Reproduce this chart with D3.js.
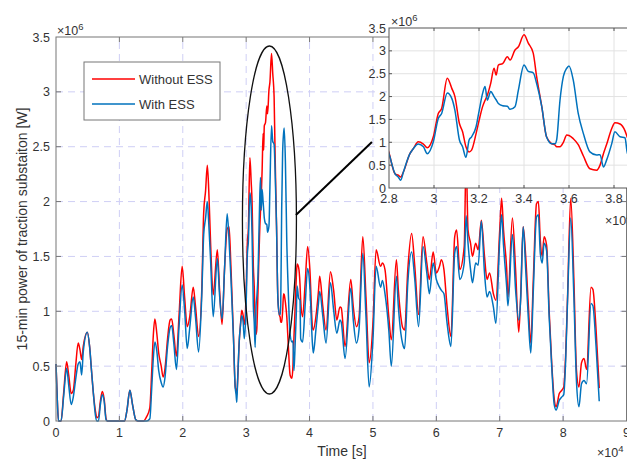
<!DOCTYPE html>
<html>
<head>
<meta charset="utf-8">
<script src="https://cdn.jsdelivr.net/npm/d3@7"></script>
<style>
  body { margin: 0; background: #fff; }
  svg { display: block; }
  text { font-family: "Liberation Sans", Arial, sans-serif; fill: #333; }
</style>
</head>
<body>
<script>
const width = 627;
const height = 459;

// Time, in units of 1e4 s
const timeE4 = [
  0.000, 0.020, 0.040, 0.080, 0.120, 0.168, 0.200, 0.240, 0.273, 0.310,
  0.350, 0.378, 0.405, 0.430, 0.494, 0.530, 0.560, 0.590, 0.620, 0.645,
  0.670, 0.700, 0.730, 0.760, 0.790, 0.810, 1.080, 1.120, 1.165, 1.210,
  1.260, 1.300, 1.380, 1.430, 1.480, 1.510, 1.535, 1.560, 1.590, 1.620,
  1.660, 1.690, 1.720, 1.760, 1.800, 1.825, 1.860, 1.900, 1.940, 1.990,
  2.030, 2.070, 2.110, 2.165, 2.200, 2.250, 2.300, 2.330, 2.360, 2.387,
  2.410, 2.440, 2.480, 2.545, 2.580, 2.620, 2.660, 2.700, 2.730, 2.760,
  2.800, 2.827, 2.841, 2.852, 2.864, 2.893, 2.908, 2.930, 2.953, 2.970,
  2.997, 3.019, 3.034, 3.059, 3.079, 3.093, 3.113, 3.127, 3.142, 3.156,
  3.167, 3.187, 3.201, 3.216, 3.227, 3.237, 3.252, 3.267, 3.276, 3.286,
  3.305, 3.326, 3.338, 3.360, 3.375, 3.400, 3.419, 3.441, 3.456, 3.479,
  3.500, 3.523, 3.538, 3.545, 3.560, 3.575, 3.590, 3.600, 3.619, 3.641,
  3.664, 3.693, 3.723, 3.738, 3.753, 3.767, 3.790, 3.804, 3.827, 3.849,
  3.860, 3.890, 3.930, 3.970, 4.005, 4.045, 4.060, 4.100, 4.140, 4.160,
  4.210, 4.260, 4.330, 4.380, 4.430, 4.480, 4.500, 4.560, 4.650, 4.690,
  4.740, 4.780, 4.840, 4.890, 4.940, 5.000, 5.050, 5.120, 5.150, 5.190,
  5.250, 5.290, 5.370, 5.400, 5.440, 5.470, 5.500, 5.550, 5.610, 5.660,
  5.720, 5.790, 5.850, 5.890, 5.950, 6.000, 6.050, 6.080, 6.120, 6.170,
  6.230, 6.290, 6.320, 6.370, 6.440, 6.470, 6.500, 6.540, 6.570, 6.620,
  6.660, 6.710, 6.760, 6.800, 6.840, 6.900, 6.940, 7.000, 7.030, 7.060,
  7.110, 7.130, 7.200, 7.250, 7.300, 7.330, 7.370, 7.410, 7.450, 7.490,
  7.530, 7.580, 7.610, 7.640, 7.670, 7.700, 7.740, 7.780, 7.820, 7.860,
  7.890, 7.940, 7.980, 8.010, 8.040, 8.070, 8.120, 8.170, 8.210, 8.250,
  8.290, 8.330, 8.370, 8.440, 8.470, 8.520, 8.570
];

// 15-min power, in units of 1e6 W
const withoutEss = [
  0.52, 0.20, 0.00, 0.00, 0.25, 0.54, 0.42, 0.25, 0.28, 0.50,
  0.71, 0.65, 0.56, 0.68, 0.81, 0.68, 0.46, 0.25, 0.10, 0.03,
  0.04, 0.18, 0.27, 0.20, 0.02, 0.00, 0.00, 0.10, 0.28, 0.14,
  0.01, 0.00, 0.00, 0.04, 0.12, 0.45, 0.78, 0.93, 0.80, 0.62,
  0.50, 0.40, 0.48, 0.75, 0.92, 0.93, 0.78, 0.59, 0.95, 1.41,
  1.12, 0.86, 0.95, 1.22, 1.05, 0.77, 1.20, 1.90, 2.10, 2.33,
  2.10, 1.60, 1.15, 1.56, 1.20, 0.88, 1.40, 1.75, 1.77, 1.40,
  0.77, 0.31, 0.28, 0.24, 0.35, 0.75, 0.86, 1.01, 0.96, 0.88,
  1.12, 1.63, 1.74, 2.40, 2.18, 2.00, 1.41, 1.23, 0.90, 0.79,
  0.83, 1.19, 1.49, 1.78, 1.92, 2.03, 2.29, 2.62, 2.47, 2.69,
  2.72, 2.87, 2.80, 3.02, 3.09, 3.35, 3.17, 2.95, 2.44, 1.78,
  1.12, 0.97, 0.94, 0.90, 0.90, 1.00, 1.16, 1.15, 1.08, 0.95,
  0.70, 0.42, 0.39, 0.50, 0.75, 0.95, 1.30, 1.43, 1.40, 1.25,
  1.10, 0.95, 1.25, 1.59, 1.38, 0.86, 0.83, 0.95, 1.18, 1.32,
  1.04, 0.83, 1.36, 1.19, 0.92, 1.04, 1.03, 0.68, 1.29, 1.04,
  0.86, 0.94, 1.68, 1.13, 0.53, 0.89, 1.56, 1.41, 1.44, 1.38,
  0.95, 0.74, 1.47, 1.20, 0.95, 0.85, 0.83, 1.38, 1.71, 1.41,
  0.97, 1.68, 1.44, 1.29, 1.54, 1.35, 1.41, 1.47, 1.38, 1.04,
  0.77, 1.68, 1.74, 1.38, 1.59, 2.40, 1.74, 1.62, 1.50, 1.62,
  1.56, 1.83, 1.50, 1.29, 1.35, 1.16, 1.10, 1.74, 2.03, 1.74,
  1.38, 1.13, 1.85, 1.38, 0.81, 1.13, 1.77, 1.50, 1.07, 0.71,
  1.29, 1.98, 2.00, 1.65, 1.50, 1.68, 1.60, 1.00, 0.53, 0.20,
  0.13, 0.25, 0.28, 0.31, 0.60, 1.13, 2.03, 1.29, 0.47, 0.31,
  0.53, 0.57, 0.47, 1.22, 1.20, 0.83, 0.30
];

const withEss = [
  0.52, 0.20, 0.00, 0.00, 0.22, 0.48, 0.33, 0.15, 0.22, 0.38,
  0.52, 0.54, 0.42, 0.63, 0.81, 0.68, 0.46, 0.25, 0.06, 0.00,
  0.00, 0.15, 0.24, 0.18, 0.01, 0.00, 0.00, 0.10, 0.28, 0.14,
  0.01, 0.00, 0.00, 0.00, 0.02, 0.30, 0.57, 0.72, 0.64, 0.46,
  0.35, 0.31, 0.40, 0.68, 0.85, 0.87, 0.70, 0.47, 0.85, 1.24,
  1.00, 0.66, 0.85, 1.13, 0.95, 0.63, 1.15, 1.70, 1.85, 2.00,
  1.80, 1.45, 0.95, 1.48, 1.15, 0.93, 1.40, 1.89, 1.65, 1.30,
  0.75, 0.31, 0.24, 0.17, 0.35, 0.75, 0.86, 0.96, 0.90, 0.75,
  1.01, 1.52, 1.63, 2.08, 1.96, 1.70, 1.05, 0.90, 0.67, 1.05,
  1.12, 1.34, 1.70, 2.07, 2.22, 1.92, 2.11, 2.00, 1.93, 1.85,
  1.80, 1.79, 1.72, 1.78, 2.14, 2.69, 2.55, 2.52, 2.29, 1.78,
  1.12, 0.97, 0.97, 1.05, 1.92, 2.44, 2.62, 2.67, 2.36, 1.63,
  1.19, 0.79, 0.72, 0.73, 0.46, 0.61, 0.97, 1.23, 1.12, 1.10,
  0.75, 0.72, 1.05, 1.39, 1.22, 0.71, 0.62, 0.83, 1.07, 1.18,
  0.95, 0.71, 1.26, 1.01, 0.80, 0.92, 0.90, 0.57, 1.21, 0.92,
  0.71, 0.83, 1.53, 0.95, 0.31, 0.74, 1.41, 1.22, 1.28, 1.16,
  0.83, 0.50, 1.32, 1.05, 0.80, 0.70, 0.66, 1.26, 1.54, 1.29,
  0.86, 1.59, 1.35, 1.16, 1.44, 1.29, 1.22, 1.19, 1.16, 0.89,
  0.68, 1.53, 1.59, 1.29, 1.44, 1.87, 1.62, 1.38, 1.26, 1.44,
  1.42, 1.82, 1.35, 1.13, 1.18, 1.04, 0.89, 1.65, 1.88, 1.60,
  1.22, 1.05, 1.70, 1.20, 0.92, 1.10, 1.77, 1.38, 0.95, 0.62,
  1.19, 1.86, 1.88, 1.53, 1.44, 1.62, 1.55, 0.95, 0.50, 0.15,
  0.10, 0.19, 0.22, 0.24, 0.55, 1.10, 1.85, 1.13, 0.37, 0.13,
  0.34, 0.37, 0.34, 1.07, 1.05, 0.68, 0.18
];

const seriesNames = ["Without ESS", "With ESS"];
const seriesColors = ["#ff0000", "#0072bd"];

const xTicksMain = [0, 1, 2, 3, 4, 5, 6, 7, 8, 9];
const yTicks = [0, 0.5, 1, 1.5, 2, 2.5, 3, 3.5];
const xTicksInset = [2.8, 3, 3.2, 3.4, 3.6, 3.8];

// zoomed window marked on the main axes (data units)
const zoomEllipse = { cx: 3.367, cy: 1.832, rx: 0.426, ry: 1.586 };
const connector = [[3.785, 1.878], [4.984, 2.543]];

const rows = timeE4.map((t, i) => ({ t, a: withoutEss[i], b: withEss[i] }));
const fmt = d3.format("~g");

const svg = d3.select("body").append("svg")
  .attr("width", width)
  .attr("height", height);

// ---------- main axes ----------
const x = d3.scaleLinear().domain([0, 9]).range([56, 626.5]);
const y = d3.scaleLinear().domain([0, 3.5]).range([421, 37]);

const main = svg.append("g");

// dashed grid
main.append("g").selectAll("line")
  .data(xTicksMain.slice(1, -1))
  .join("line")
  .attr("x1", d => x(d)).attr("x2", d => x(d))
  .attr("y1", y(0)).attr("y2", y(3.5))
  .attr("stroke", "#cfcff5").attr("stroke-dasharray", "7,5");
main.append("g").selectAll("line")
  .data(yTicks.slice(1, -1))
  .join("line")
  .attr("x1", x(0)).attr("x2", x(9))
  .attr("y1", d => y(d)).attr("y2", d => y(d))
  .attr("stroke", "#cfcff5").attr("stroke-dasharray", "7,5");

function linePath(xs, ys, key) {
  return d3.line()
    .x(d => xs(d.t))
    .y(d => ys(d[key]))
    .curve(d3.curveMonotoneX);
}

main.append("path").datum(rows)
  .attr("d", linePath(x, y, "a"))
  .attr("fill", "none").attr("stroke", seriesColors[0]).attr("stroke-width", 1.5);
main.append("path").datum(rows)
  .attr("d", linePath(x, y, "b"))
  .attr("fill", "none").attr("stroke", seriesColors[1]).attr("stroke-width", 1.5);

// box + inward ticks
const axisColor = "#777";
main.append("rect")
  .attr("x", x(0)).attr("y", y(3.5))
  .attr("width", x(9) - x(0)).attr("height", y(0) - y(3.5))
  .attr("fill", "none").attr("stroke", axisColor);

const tk = main.append("g").attr("stroke", axisColor);
xTicksMain.slice(1, -1).forEach(d => {
  tk.append("line").attr("x1", x(d)).attr("x2", x(d)).attr("y1", y(0)).attr("y2", y(0) - 5);
  tk.append("line").attr("x1", x(d)).attr("x2", x(d)).attr("y1", y(3.5)).attr("y2", y(3.5) + 5);
});
yTicks.slice(1, -1).forEach(d => {
  tk.append("line").attr("x1", x(0)).attr("x2", x(0) + 5).attr("y1", y(d)).attr("y2", y(d));
  tk.append("line").attr("x1", x(9)).attr("x2", x(9) - 5).attr("y1", y(d)).attr("y2", y(d));
});

main.append("g").selectAll("text")
  .data(xTicksMain)
  .join("text")
  .attr("x", d => x(d)).attr("y", y(0) + 16)
  .attr("text-anchor", "middle").attr("font-size", 12.5)
  .text(fmt);
main.append("g").selectAll("text")
  .data(yTicks)
  .join("text")
  .attr("x", x(0) - 6).attr("y", d => y(d) + 4.5)
  .attr("text-anchor", "end").attr("font-size", 12.5)
  .text(fmt);

function expLabel(g, px, py, pow) {
  const t = g.append("text").attr("x", px).attr("y", py).attr("font-size", 12.5);
  t.append("tspan").text("\u00d710");
  t.append("tspan").attr("dy", -5).attr("font-size", 9.5).text(pow);
}
expLabel(main, 57, 35, "6");
expLabel(main, 597, 457, "4");

main.append("text")
  .attr("x", 342).attr("y", 456)
  .attr("text-anchor", "middle").attr("font-size", 14)
  .text("Time [s]");
main.append("text")
  .attr("transform", `translate(22,${(y(0) + y(3.5)) / 2}) rotate(-90)`)
  .attr("text-anchor", "middle").attr("dy", "0.35em").attr("font-size", 14)
  .text("15-min power of traction substaiton [W]");

// legend
const lg = main.append("g");
lg.append("rect").attr("x", 84).attr("y", 62).attr("width", 136).attr("height", 58)
  .attr("fill", "#fff").attr("stroke", axisColor);
seriesNames.forEach((name, i) => {
  const ly = 79 + i * 25;
  lg.append("line").attr("x1", 92).attr("x2", 135).attr("y1", ly).attr("y2", ly)
    .attr("stroke", seriesColors[i]).attr("stroke-width", 1.5);
  lg.append("text").attr("x", 139).attr("y", ly + 4.5).attr("font-size", 13).text(name);
});

// ellipse + connector
main.append("ellipse")
  .attr("cx", x(zoomEllipse.cx)).attr("cy", y(zoomEllipse.cy))
  .attr("rx", x(zoomEllipse.rx) - x(0)).attr("ry", y(0) - y(zoomEllipse.ry))
  .attr("fill", "none").attr("stroke", "#111").attr("stroke-width", 1.3);
main.append("line")
  .attr("x1", x(connector[0][0])).attr("y1", y(connector[0][1]))
  .attr("x2", x(connector[1][0])).attr("y2", y(connector[1][1]))
  .attr("stroke", "#000").attr("stroke-width", 2);

// ---------- inset ----------
const xi = d3.scaleLinear().domain([2.8, 3.9]).range([389, 636.5]);
const yi = d3.scaleLinear().domain([0, 3.5]).range([188, 28]);
const inset = svg.append("g");

inset.append("rect")
  .attr("x", xi(2.8)).attr("y", yi(3.5))
  .attr("width", xi(3.9) - xi(2.8)).attr("height", yi(0) - yi(3.5))
  .attr("fill", "#fff");

svg.append("clipPath").attr("id", "insetClip").append("rect")
  .attr("x", xi(2.8)).attr("y", yi(3.5))
  .attr("width", xi(3.9) - xi(2.8)).attr("height", yi(0) - yi(3.5));

inset.append("g").selectAll("line")
  .data(xTicksInset.slice(1))
  .join("line")
  .attr("x1", d => xi(d)).attr("x2", d => xi(d))
  .attr("y1", yi(0)).attr("y2", yi(3.5))
  .attr("stroke", "#e2e2e2");
inset.append("g").selectAll("line")
  .data(yTicks.slice(1, -1))
  .join("line")
  .attr("x1", xi(2.8)).attr("x2", xi(3.9))
  .attr("y1", d => yi(d)).attr("y2", d => yi(d))
  .attr("stroke", "#e2e2e2");

const insetLines = inset.append("g").attr("clip-path", "url(#insetClip)");
insetLines.append("path").datum(rows)
  .attr("d", linePath(xi, yi, "a"))
  .attr("fill", "none").attr("stroke", seriesColors[0]).attr("stroke-width", 1.5);
insetLines.append("path").datum(rows)
  .attr("d", linePath(xi, yi, "b"))
  .attr("fill", "none").attr("stroke", seriesColors[1]).attr("stroke-width", 1.5);

const insetColor = "#555";
inset.append("rect")
  .attr("x", xi(2.8)).attr("y", yi(3.5))
  .attr("width", xi(3.9) - xi(2.8)).attr("height", yi(0) - yi(3.5))
  .attr("fill", "none").attr("stroke", insetColor);

const tki = inset.append("g").attr("stroke", insetColor);
xTicksInset.slice(1).forEach(d => {
  tki.append("line").attr("x1", xi(d)).attr("x2", xi(d)).attr("y1", yi(0)).attr("y2", yi(0) - 3);
  tki.append("line").attr("x1", xi(d)).attr("x2", xi(d)).attr("y1", yi(3.5)).attr("y2", yi(3.5) + 3);
});
yTicks.slice(1, -1).forEach(d => {
  tki.append("line").attr("x1", xi(2.8)).attr("x2", xi(2.8) + 3).attr("y1", yi(d)).attr("y2", yi(d));
});

inset.append("g").selectAll("text")
  .data(xTicksInset)
  .join("text")
  .attr("x", d => xi(d)).attr("y", yi(0) + 15)
  .attr("text-anchor", "middle").attr("font-size", 12.5)
  .text(fmt);
inset.append("g").selectAll("text")
  .data(yTicks)
  .join("text")
  .attr("x", xi(2.8) - 3).attr("y", d => yi(d) + 4.5)
  .attr("text-anchor", "end").attr("font-size", 12.5)
  .text(fmt);

expLabel(inset, 391, 26, "6");
expLabel(inset, 605, 225, "4");
</script>
</body>
</html>
